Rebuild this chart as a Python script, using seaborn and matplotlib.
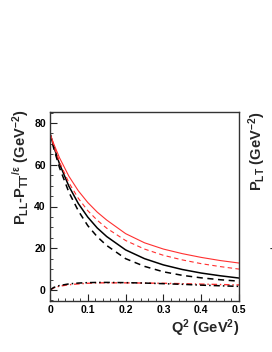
import matplotlib
matplotlib.use("Agg")
import matplotlib.pyplot as plt
import seaborn as sns
import pandas as pd
from matplotlib.ticker import MultipleLocator

# ---- data ----
q2 = [0.0, 0.01, 0.025, 0.05, 0.075, 0.1, 0.125, 0.15, 0.2, 0.25, 0.3, 0.35, 0.4, 0.45, 0.5]
black_solid = [75.0, 68.7, 60.5, 49.7, 41.4, 34.9, 29.7, 25.6, 19.2, 15.0, 12.0, 9.8, 8.1, 6.8, 5.7]
black_dashed = [75.0, 67.8, 58.7, 46.8, 37.9, 30.8, 25.5, 21.3, 15.0, 11.3, 8.7, 7.0, 5.8, 4.9, 4.2]
red_solid = [75.0, 70.0, 63.4, 54.5, 47.5, 41.9, 37.3, 33.5, 27.0, 22.6, 19.6, 17.4, 15.6, 14.1, 12.9]
red_dashed = [75.0, 69.0, 61.4, 51.4, 43.9, 38.0, 33.4, 29.6, 23.7, 19.6, 16.6, 14.4, 12.6, 11.2, 10.0]
black_dashdot = [0.0, 1.2, 2.1, 2.9, 3.3, 3.5, 3.6, 3.6, 3.5, 3.3, 3.0, 2.7, 2.3, 2.0, 1.7]
red_dashdot = [0.0, 1.0, 1.8, 2.5, 2.9, 3.2, 3.4, 3.4, 3.4, 3.3, 3.2, 3.0, 2.8, 2.6, 2.4]

x_ticks = [0, 0.1, 0.2, 0.3, 0.4, 0.5]
x_ticklabels = ["0", "0.1", "0.2", "0.3", "0.4", "0.5"]
y_ticks = [0, 20, 40, 60, 80]
right_ticks = [-1.0, -0.5]
right_ticklabels = ["-1", "-0.5"]

sns.set_theme(style="ticks")
plt.rcParams["font.family"] = ["Liberation Sans", "DejaVu Sans"]
plt.rcParams["font.weight"] = "bold"
plt.rcParams["mathtext.fontset"] = "custom"
plt.rcParams["mathtext.bf"] = "Liberation Sans:bold"
plt.rcParams["mathtext.rm"] = "Liberation Sans:bold"
plt.rcParams["mathtext.it"] = "Liberation Sans:bold"
plt.rcParams["mathtext.default"] = "bf"

fig = plt.figure(figsize=(2.72, 3.52), dpi=100)
ax = fig.add_axes([50 / 272, 1 - 301 / 352, 189 / 272, 189 / 352])

series = [
    (black_solid, "black", "-", 1.1),
    (black_dashed, "black", (0, (4, 3)), 1.1),
    (red_solid, "#ff3030", "-", 0.8),
    (red_dashed, "#ff3030", (0, (4, 3)), 0.8),
    (red_dashdot, "#ff3030", (0, (4, 2, 1, 2)), 1.0),
    (black_dashdot, "black", (0, (4, 2, 1, 2)), 1.1),
]
for vals, col, ls, lw in series:
    df = pd.DataFrame({"q2": q2, "v": vals})
    sns.lineplot(data=df, x="q2", y="v", color=col, linestyle=ls, linewidth=lw, ax=ax)

ax.set_xlim(0, 0.5)
ax.set_ylim(-5.3, 85.3)
ax.set_xticks(x_ticks)
ax.set_xticklabels(x_ticklabels)
ax.set_yticks(y_ticks)
ax.xaxis.set_minor_locator(MultipleLocator(0.02))
ax.yaxis.set_minor_locator(MultipleLocator(5))
ax.tick_params(axis="both", which="major", direction="in", length=5, width=0.8,
               labelsize=7.5, pad=3, colors="#222222", labelcolor="black")
ax.tick_params(axis="both", which="minor", direction="in", length=2.5, width=0.6, colors="#222222")
for lab in ax.get_xticklabels() + ax.get_yticklabels():
    lab.set_fontweight("bold")
for sp in ax.spines.values():
    sp.set_linewidth(1.0)
    sp.set_color("#333333")
ax.set_xlabel("")
ax.set_ylabel("")

fig.text(239 / 272, 1 - 328 / 352, r"Q$^{2}$ (GeV$^{2}$)", ha="right", va="center",
         fontsize=10.5, fontweight="bold")
fig.text(21 / 272, 1 - 110 / 352, r"P$_{LL}$-P$_{TT}$$^{/\varepsilon}$ (GeV$^{-2}$)",
         rotation=90, ha="center", va="top", fontsize=10.5, fontweight="bold")

# partially visible neighbouring panel
ax2 = fig.add_axes([292 / 272, 1 - 301 / 352, 0.5, 189 / 352])
ax2.set_ylim(-1.0, 0.75)
ax2.set_yticks(right_ticks)
ax2.set_yticklabels(right_ticklabels)
ax2.tick_params(axis="y", labelsize=7.5, direction="in")
ax2.set_xticks([])
fig.text(257 / 272, 1 - 112 / 352, r"P$_{LT}$ (GeV$^{-2}$)", rotation=90, ha="center",
         va="top", fontsize=10.5, fontweight="bold")

fig.savefig("out.png", dpi=100)
